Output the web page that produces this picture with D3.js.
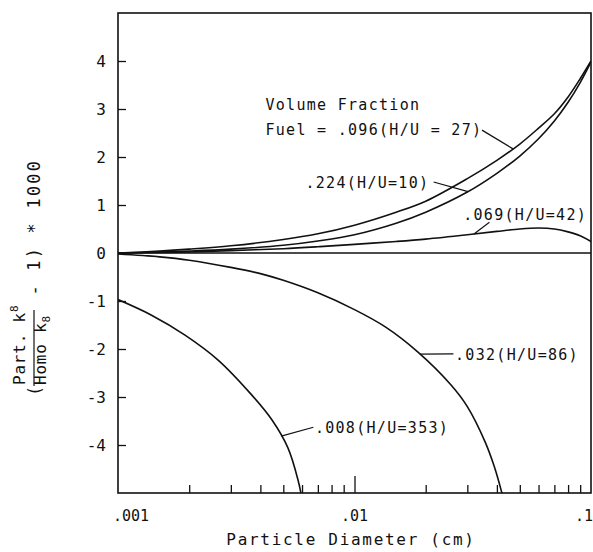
<!DOCTYPE html>
<html>
<head>
<meta charset="utf-8">
<script src="https://cdn.jsdelivr.net/npm/d3@7"></script>
<style>
  body { margin: 0; background: #fff; }
  text { font-family: "DejaVu Sans Mono", monospace; fill: #111; }
</style>
</head>
<body>
<script>
const WIDTH = 593, HEIGHT = 552
const MARGINS = { top: 13, right: 2, bottom: 59, left: 118 }

// axis data
const yTicks = [-4, -3, -2, -1, 0, 1, 2, 3, 4]
const xMajor = [0.001, 0.01, 0.1]
const xMajorLabels = ['.001', '.01', '.1']
const xMinor = [0.002, 0.003, 0.004, 0.005, 0.006, 0.007, 0.008, 0.009,
                0.02, 0.03, 0.04, 0.05, 0.06, 0.07, 0.08, 0.09]

// curves: particle diameter (cm) vs (k_part/k_homo - 1)*1000
const diamPos = [0.001, 0.0015, 0.002, 0.003, 0.005, 0.007, 0.01, 0.015, 0.02, 0.03, 0.04, 0.05, 0.06, 0.07, 0.08, 0.09, 0.1]
const vol096 = [0, 0.04, 0.08, 0.15, 0.28, 0.4, 0.58, 0.85, 1.08, 1.55, 1.93, 2.27, 2.6, 2.9, 3.25, 3.63, 4.0]
const vol224 = [0, 0.02, 0.04, 0.08, 0.16, 0.25, 0.38, 0.62, 0.85, 1.27, 1.66, 2.02, 2.38, 2.75, 3.14, 3.55, 3.98]
const vol069 = [0, 0.01, 0.02, 0.05, 0.09, 0.13, 0.18, 0.24, 0.29, 0.38, 0.45, 0.5, 0.52, 0.5, 0.44, 0.36, 0.24]

const diam032 = [0.001, 0.0015, 0.002, 0.003, 0.004, 0.005, 0.007, 0.01, 0.0135, 0.0185, 0.0256, 0.03, 0.0357, 0.039, 0.042, 0.0435]
const vol032 = [-0.02, -0.08, -0.15, -0.3, -0.43, -0.57, -0.83, -1.18, -1.54, -2.06, -2.75, -3.2, -3.94, -4.45, -5, -5.3]

const diam008 = [0.001, 0.00138, 0.00192, 0.00265, 0.00365, 0.00448, 0.00523, 0.00577, 0.00612]
const vol008 = [-0.97, -1.29, -1.71, -2.23, -2.94, -3.48, -4.06, -4.73, -5.35]

// annotation texts + where they sit (data coords)
const headerLines = ['Volume Fraction', 'Fuel = .096(H/U = 27)']
const headerPos = [[0.0042, 2.98], [0.0042, 2.46]]
const curveLabels = ['.096', '.224(H/U=10)', '.069(H/U=42)', '.032(H/U=86)', '.008(H/U=353)']
const curveLabelPos = [null, [0.0062, 1.35], [0.0288, 0.69], [0.0266, -2.23], [0.0068, -3.75]]
// leader: from point (data coords) to curve at given diameter
const leaderFrom = [[0.0346, 2.56], [0.0216, 1.48], [0.0372, 0.64], [0.0262, -2.1], [0.0067, -3.63]]
const leaderTo = [0.0468, 0.0302, 0.032, 0.0189, 0.0049]

const series = [
  { x: diamPos, y: vol096 },
  { x: diamPos, y: vol224 },
  { x: diamPos, y: vol069 },
  { x: diam032, y: vol032 },
  { x: diam008, y: vol008 }
]

let w = WIDTH - MARGINS.left - MARGINS.right
let h = HEIGHT - MARGINS.top - MARGINS.bottom

let x = d3.scaleLog().domain([0.001, 0.1]).range([0, w])
let y = d3.scaleLinear().domain([-5, 5]).range([h, 0])

let svg = d3.select('body').append('svg')
  .attr('width', WIDTH)
  .attr('height', HEIGHT)

let g = svg.append('g')
  .attr('transform', 'translate(' + [MARGINS.left, MARGINS.top] + ')')

svg.append('defs').append('clipPath').attr('id', 'plot')
  .append('rect').attr('width', w).attr('height', h)

// frame
g.append('rect')
  .attr('width', w).attr('height', h)
  .attr('fill', 'none').attr('stroke', '#111').attr('stroke-width', 1.6)

// zero line
g.append('line')
  .attr('x1', 0).attr('x2', w)
  .attr('y1', y(0)).attr('y2', y(0))
  .attr('stroke', '#111').attr('stroke-width', 1.3)

// y axis ticks + labels (ticks point inward)
let yAxis = d3.axisRight(y).tickValues(yTicks).tickSize(8).tickFormat('')
g.append('g').attr('class', 'y axis').call(yAxis)
  .call(s => s.select('.domain').remove())
  .selectAll('line').attr('stroke', '#111').attr('stroke-width', 1.3)

g.selectAll('.ylab')
  .data(yTicks)
  .enter().append('text')
    .attr('class', 'ylab')
    .attr('x', -12)
    .attr('y', d => y(d))
    .attr('dy', '.36em')
    .attr('text-anchor', 'end')
    .style('font-size', '16px')
    .text(d => d)

// x axis ticks (inward, from bottom)
let xMinorAxis = d3.axisTop(x).tickValues(xMinor).tickSize(8).tickFormat('')
let xMajorAxis = d3.axisTop(x).tickValues([0.01]).tickSize(17).tickFormat('')
;[xMinorAxis, xMajorAxis].forEach(a => {
  g.append('g').attr('transform', 'translate(0,' + h + ')').call(a)
    .call(s => s.select('.domain').remove())
    .selectAll('line').attr('stroke', '#111').attr('stroke-width', 1.3)
})

g.selectAll('.xlab')
  .data(xMajor)
  .enter().append('text')
    .attr('class', 'xlab')
    .attr('x', (d, i) => x(d) + (i === 0 ? -5 : i === 2 ? 2 : 0))
    .attr('y', h + 28)
    .attr('text-anchor', (d, i) => ['start', 'middle', 'end'][i])
    .style('font-size', '15px')
    .text((d, i) => xMajorLabels[i])

// axis title
svg.append('text')
  .attr('x', 351).attr('y', 545)
  .attr('text-anchor', 'middle')
  .style('font-size', '16px')
  .style('letter-spacing', '1.7px')
  .text('Particle Diameter (cm)')

// y axis title: (Part. k8 / Homo k8 - 1) * 1000, rotated
let yt = svg.append('g').attr('transform', 'translate(34,396) rotate(-90)')
yt.append('text').attr('x', 0).attr('y', 7).style('font-size', '17px').text('(')
let num = yt.append('text').attr('x', 11).attr('y', -9)
  .style('font-size', '16px').style('letter-spacing', '0.8px')
num.append('tspan').text('Part. k')
num.append('tspan').attr('dy', -7).style('font-size', '11px').text('8')
let den = yt.append('text').attr('x', 11).attr('y', 12)
  .style('font-size', '16px').style('letter-spacing', '0.8px')
den.append('tspan').text('Homo k')
den.append('tspan').attr('dy', 4).style('font-size', '11px').text('8')
yt.append('line')
  .attr('x1', 10).attr('x2', 86).attr('y1', 0).attr('y2', 0)
  .attr('stroke', '#111').attr('stroke-width', 1.2)
yt.append('text')
  .attr('x', 88).attr('y', 6)
  .style('font-size', '17px')
  .style('white-space', 'pre')
  .style('letter-spacing', '2.2px')
  .text(' - 1) * 1000')

// curves
let line = d3.line()
  .x(d => x(d[0]))
  .y(d => y(d[1]))
  .curve(d3.curveCatmullRom.alpha(0.5))

g.append('g').attr('clip-path', 'url(#plot)')
  .selectAll('.curve')
  .data(series)
  .enter().append('path')
    .attr('class', 'curve')
    .attr('fill', 'none')
    .attr('stroke', '#111')
    .attr('stroke-width', 1.6)
    .attr('d', s => line(s.x.map((v, i) => [v, s.y[i]])))

// value on a curve at diameter d (linear in log-x)
function valueAt(s, d) {
  let lx = s.x.map(Math.log10), t = Math.log10(d)
  for (let i = 1; i < lx.length; i++) {
    if (t <= lx[i]) {
      let f = (t - lx[i - 1]) / (lx[i] - lx[i - 1])
      return s.y[i - 1] + f * (s.y[i] - s.y[i - 1])
    }
  }
  return s.y[s.y.length - 1]
}

// header text
g.selectAll('.header')
  .data(headerLines)
  .enter().append('text')
    .attr('class', 'header')
    .attr('x', (d, i) => x(headerPos[i][0]))
    .attr('y', (d, i) => y(headerPos[i][1]))
    .style('font-size', '15px')
    .style('letter-spacing', '1.3px')
    .style('white-space', 'pre')
    .text(d => d)

// curve labels
g.selectAll('.clab')
  .data(curveLabels.map((t, i) => ({ t, p: curveLabelPos[i] })).filter(d => d.p))
  .enter().append('text')
    .attr('class', 'clab')
    .attr('x', d => x(d.p[0]))
    .attr('y', d => y(d.p[1]))
    .style('font-size', '15px')
    .style('letter-spacing', '1.3px')
    .text(d => d.t)

// leaders
g.selectAll('.leader')
  .data(leaderFrom)
  .enter().append('line')
    .attr('class', 'leader')
    .attr('x1', d => x(d[0]))
    .attr('y1', d => y(d[1]))
    .attr('x2', (d, i) => x(leaderTo[i]))
    .attr('y2', (d, i) => y(valueAt(series[i], leaderTo[i])))
    .attr('stroke', '#111')
    .attr('stroke-width', 1.2)
</script>
</body>
</html>
